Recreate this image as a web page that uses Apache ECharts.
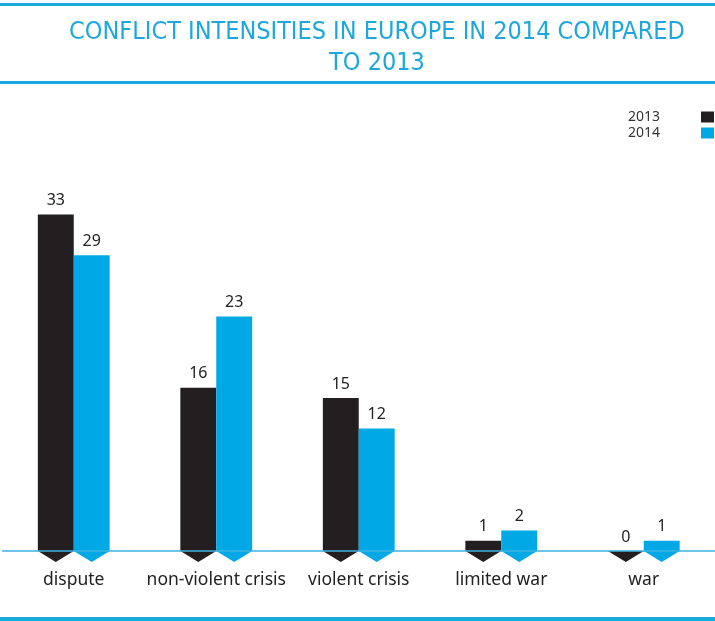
<!DOCTYPE html>
<html>
<head>
<meta charset="utf-8">
<script src="https://cdn.jsdelivr.net/npm/echarts@6/dist/echarts.min.js"></script>
<style>
  html, body { margin: 0; padding: 0; background: #fff; }
  #chart { width: 715px; height: 621px; }
</style>
</head>
<body>
<div id="chart"></div>
<script>
const categories = ['dispute', 'non-violent crisis', 'violent crisis', 'limited war', 'war']
const values2013 = [33, 16, 15, 1, 0]
const values2014 = [29, 23, 12, 2, 1]
const seriesNames = ['2013', '2014']

const BLACK = '#231f20'
const BLUE = '#00a9e6'
const LINE = '#1aa8dd'

// bar = rectangle above the baseline + a small arrow tip below it
function arrowBar(side) {
  return function (params, api) {
    const idx = api.value(0)
    const val = api.value(1)
    const top = api.coord([idx, val])
    const base = api.coord([idx, 0])
    const band = api.size([1, 0])[0]
    const w = band * 0.252
    const x0 = side < 0 ? base[0] - w : base[0]
    const x1 = x0 + w
    const cx = (x0 + x1) / 2
    const tip = 11
    const color = api.visual('color')
    return {
      type: 'group',
      children: [
        {
          type: 'polygon',
          shape: { points: [[x0, top[1]], [x1, top[1]], [x1, base[1]], [cx, base[1] + tip], [x0, base[1]]] },
          style: { fill: color }
        },
        {
          type: 'text',
          style: {
            text: String(val),
            x: cx,
            y: top[1] - 6,
            align: 'center',
            verticalAlign: 'bottom',
            fill: '#222',
            font: '16px "Noto Sans", sans-serif'
          }
        }
      ]
    }
  }
}

const chart = echarts.init(document.getElementById('chart'))
chart.setOption({
  animation: false,
  title: {
    text: 'CONFLICT INTENSITIES IN EUROPE IN 2014 COMPARED\nTO 2013',
    left: 372,
    top: 12,
    textAlign: 'center',
    textStyle: {
      color: '#1ea7dc',
      fontSize: 25,
      fontWeight: 'normal',
      fontFamily: '"Liberation Sans Narrow", "DejaVu Sans Condensed", sans-serif',
      lineHeight: 31
    }
  },
  legend: {
    orient: 'vertical',
    right: -4,
    top: 105,
    align: 'right',
    itemWidth: 13,
    itemHeight: 11,
    itemGap: 2,
    icon: 'rect',
    textStyle: { color: '#333', fontSize: 14, fontFamily: '"Noto Sans", sans-serif', padding: [0, 36, 0, 0], lineHeight: 14 },
    data: seriesNames
  },
  graphic: [
    { type: 'rect', shape: { x: 0, y: 3, width: 715, height: 3 }, style: { fill: LINE } },
    { type: 'rect', shape: { x: 0, y: 81, width: 715, height: 3 }, style: { fill: LINE } },
    { type: 'rect', shape: { x: 0, y: 617, width: 715, height: 4 }, style: { fill: LINE } }
  ],
  grid: { left: 2.5, right: -1.5, top: 143, bottom: 70 },
  xAxis: {
    type: 'category',
    data: categories,
    z: 10,
    axisLine: { lineStyle: { color: '#3fb2e2', width: 1.5 } },
    axisTick: { show: false },
    axisLabel: {
      interval: 0,
      color: '#222',
      fontSize: 17.5,
      margin: 20,
      fontFamily: '"Noto Sans", sans-serif'
    }
  },
  yAxis: {
    type: 'value',
    min: 0,
    max: 40,
    show: false,
    splitLine: { show: false }
  },
  series: [
    {
      name: seriesNames[0],
      type: 'custom',
      itemStyle: { color: BLACK },
      renderItem: arrowBar(-1),
      encode: { x: 0, y: 1 },
      data: values2013.map((v, i) => [i, v])
    },
    {
      name: seriesNames[1],
      type: 'custom',
      itemStyle: { color: BLUE },
      renderItem: arrowBar(1),
      encode: { x: 0, y: 1 },
      data: values2014.map((v, i) => [i, v])
    }
  ]
})
</script>
</body>
</html>
